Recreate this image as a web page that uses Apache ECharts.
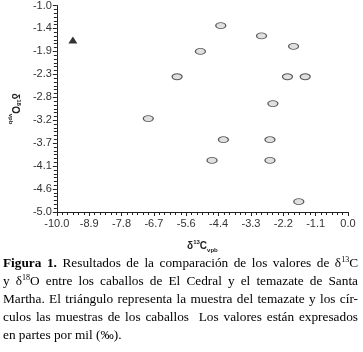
<!DOCTYPE html>
<html>
<head>
<meta charset="utf-8">
<script src="https://cdn.jsdelivr.net/npm/echarts@6/dist/echarts.min.js"></script>
<style>
  html, body { margin: 0; padding: 0; background: #fff; }
  #chart { position: absolute; left: 0; top: 0; width: 363px; height: 258px; }
  #caption {
    position: absolute; left: 3px; top: 254px; width: 355px;
    font-family: "Liberation Serif", "Times New Roman", serif;
    font-size: 13.3px; line-height: 18px; color: #000;
  }
  #caption div { white-space: nowrap; text-align: justify; text-align-last: justify; }
  #caption div.last { text-align-last: left; }
  #caption sup { font-size: 8px; line-height: 0; vertical-align: 5px; }
</style>
</head>
<body>
<div id="chart"></div>
<div id="caption">
  <div><b>Figura 1.</b> Resultados de la comparación de los valores de δ<sup>13</sup>C</div>
  <div>y δ<sup>18</sup>O entre los caballos de El Cedral y el temazate de Santa</div>
  <div>Martha. El triángulo representa la muestra del temazate y los cír-</div>
  <div>culos las muestras de los caballos&nbsp; Los valores están expresados</div>
  <div class="last">en partes por mil (‰).</div>
</div>
<script>
// tick labels as printed on the axes
const xTickLabels = ['-10.0', '-8.9', '-7.8', '-6.7', '-5.6', '-4.4', '-3.3', '-2.2', '-1.1', '0.0']
const yTickLabels = ['-5.0', '-4.6', '-4.1', '-3.7', '-3.2', '-2.8', '-2.3', '-1.9', '-1.4', '-1.0']

// caballos de El Cedral (círculos): [δ13C, δ18O]
const caballos = [
  [-4.37, -1.39], [-2.97, -1.59], [-1.87, -1.79], [-5.07, -1.89],
  [-5.87, -2.38], [-2.08, -2.38], [-1.47, -2.38], [-2.58, -2.90],
  [-6.86, -3.19], [-4.28, -3.60], [-2.68, -3.60], [-4.67, -4.00],
  [-2.68, -4.00], [-1.69, -4.80]
]
// temazate de Santa Martha (triángulo)
const temazate = [[-9.45, -1.67]]

const xMin = -10, xMax = 0, yMin = -5, yMax = -1
const minorSplit = 6

// major ticks evenly spread between min and max, minor ticks in between
const spread = (min, max, n) => Array.from({ length: n }, (_, i) => min + i * (max - min) / (n - 1))
const xMajor = spread(xMin, xMax, xTickLabels.length)
const yMajor = spread(yMin, yMax, yTickLabels.length)
const minors = (major) => {
  const out = []
  for (let i = 0; i < major.length - 1; i++) {
    const step = (major[i + 1] - major[i]) / minorSplit
    for (let k = 1; k < minorSplit; k++) out.push(major[i] + k * step)
  }
  return out
}

const labelColor = '#333'
const axisColor = '#222'
const font = '"Liberation Sans", Arial, sans-serif'

const nameRich = {
  m: { fontSize: 10, fontWeight: 'bold', color: '#222', fontFamily: font, lineHeight: 14 },
  sup: { fontSize: 6, fontWeight: 'bold', color: '#222', fontFamily: font, verticalAlign: 'top', lineHeight: 14 },
  sub: { fontSize: 6, fontWeight: 'bold', color: '#222', fontFamily: font, verticalAlign: 'bottom', lineHeight: 14 }
}

const chart = echarts.init(document.getElementById('chart'), null, { renderer: 'canvas' })
const option = {
  animation: false,
  backgroundColor: '#fff',
  grid: { left: 48, right: 15, top: 5, bottom: 34 },
  xAxis: [
    {
      type: 'value', min: xMin, max: xMax, position: 'bottom',
      name: '{m|δ}{sup|13}{m|C}{sub|vpb}', nameLocation: 'middle', nameGap: 27,
      nameTextStyle: { rich: nameRich },
      splitLine: { show: false },
      axisLine: { show: true, onZero: false, lineStyle: { color: axisColor, width: 1 } },
      axisTick: { show: true, length: 4, customValues: xMajor, lineStyle: { color: axisColor } },
      axisLabel: {
        customValues: xMajor, margin: 6,
        formatter: (v) => xTickLabels[xMajor.findIndex(t => Math.abs(t - v) < 1e-6)] ?? '',
        color: labelColor, fontSize: 11, fontFamily: font
      }
    },
    {
      type: 'value', min: xMin, max: xMax, position: 'bottom', offset: 0,
      splitLine: { show: false },
      axisLine: { show: false, onZero: false },
      axisTick: { show: true, length: 3, customValues: minors(xMajor), lineStyle: { color: axisColor } },
      axisLabel: { show: false }
    }
  ],
  yAxis: [
    {
      type: 'value', min: yMin, max: yMax, position: 'left',
      name: '{m|δ}{sup|18}{m|O}{sub|vpb}', nameLocation: 'middle', nameGap: 33, nameRotate: -90,
      nameTextStyle: { rich: nameRich },
      splitLine: { show: false },
      axisLine: { show: true, onZero: false, lineStyle: { color: axisColor, width: 1 } },
      axisTick: { show: true, length: 4, customValues: yMajor, lineStyle: { color: axisColor } },
      axisLabel: {
        customValues: yMajor, margin: 5,
        formatter: (v) => yTickLabels[yMajor.findIndex(t => Math.abs(t - v) < 1e-6)] ?? '',
        color: labelColor, fontSize: 11, fontFamily: font
      }
    },
    {
      type: 'value', min: yMin, max: yMax, position: 'left', offset: 0,
      splitLine: { show: false },
      axisLine: { show: false, onZero: false },
      axisTick: { show: true, length: 3, customValues: minors(yMajor), lineStyle: { color: axisColor } },
      axisLabel: { show: false }
    }
  ],
  series: [
    {
      name: 'caballos', type: 'scatter', data: caballos,
      symbol: 'circle', symbolSize: [10, 6],
      itemStyle: { color: '#d8d8d8', borderColor: '#333', borderWidth: 1 }
    },
    {
      name: 'temazate', type: 'scatter', data: temazate,
      symbol: 'triangle', symbolSize: [9, 7],
      itemStyle: { color: '#000' }
    }
  ]
}
chart.setOption(option)
window.addEventListener('resize', () => chart.resize())
</script>
</body>
</html>
